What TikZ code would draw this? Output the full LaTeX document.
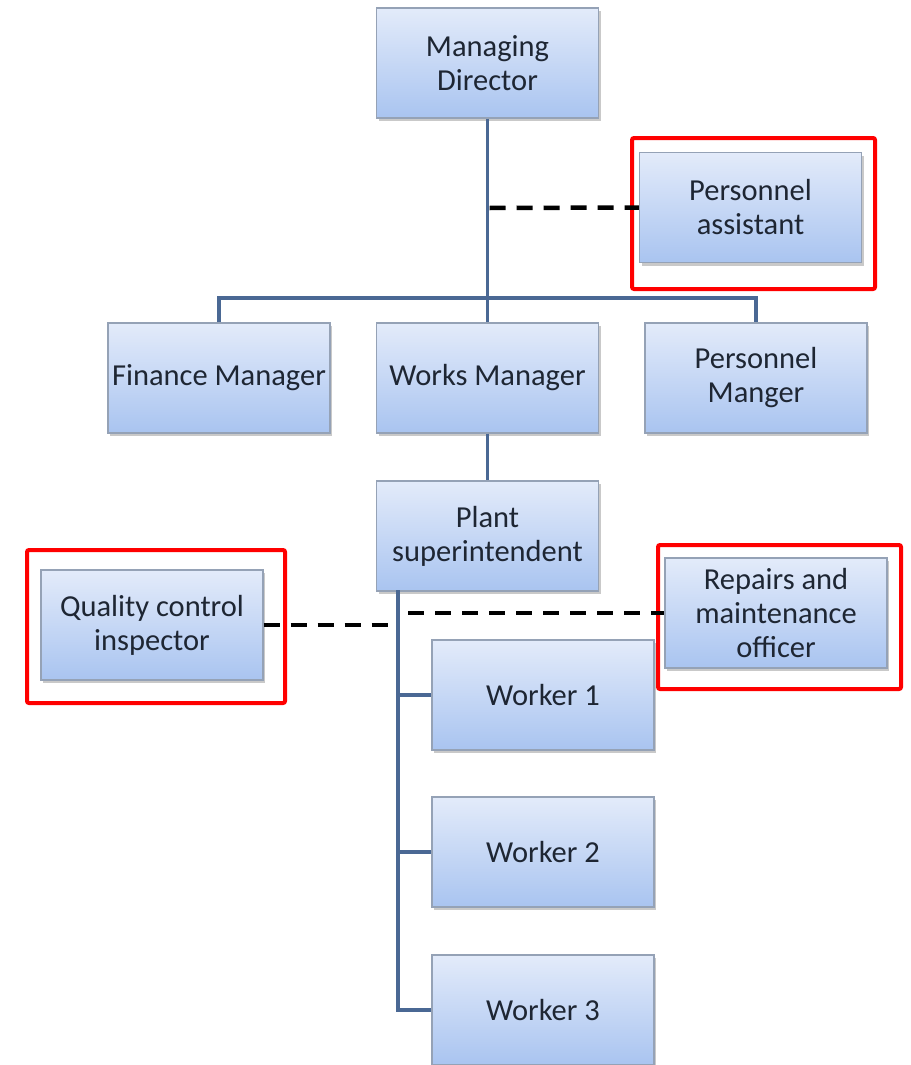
\documentclass[tikz,border=0pt]{standalone}
\usepackage{fontspec}
\setmainfont{Carlito}
\usetikzlibrary{shadows}
\definecolor{conn}{HTML}{4A6894}
\definecolor{boxtop}{HTML}{E3EBFA}
\definecolor{boxbot}{HTML}{A9C4F0}
\definecolor{boxedge}{HTML}{95A2B6}
\definecolor{txt}{HTML}{1E2633}
\tikzset{
  orgbox/.style={draw=boxedge, line width=1.2pt, top color=boxtop, bottom color=boxbot,
    minimum width=222pt, minimum height=110pt, align=center, text=txt,
    font=\fontsize{30.5}{34}\selectfont, inner sep=2pt,
    drop shadow={shadow xshift=2pt, shadow yshift=-3pt, opacity=0.35, fill=black!60}},
  link/.style={draw=conn, line width=3.6pt},
  dashlink/.style={draw=black, line width=4.5pt, dash pattern=on 16pt off 11pt},
  highlight/.style={draw=red, line width=4pt, rounded corners=2pt}
}
\begin{document}
\begin{tikzpicture}[x=1pt,y=-1pt]
\useasboundingbox (0,0) rectangle (910,1065);
\fill[white] (0,0) rectangle (910,1065);
% red highlights
\draw[highlight] (632,138) rectangle (875,289);
\draw[highlight] (27,550) rectangle (285,703);
\draw[highlight] (658,545) rectangle (901,689);

% connector coordinates
\coordinate (j1) at (487.5,298);
\coordinate (d1) at (489.5,208);
\coordinate (v0) at (398,590);
\coordinate (vq) at (398,625);
\coordinate (vr) at (408,613);

% nodes
\node[orgbox] (md) at (487.5,63) {Managing\\Director};
\node[orgbox] (pa) at (750.5,207.5) {Personnel\\assistant};
\node[orgbox] (fm) at (219,378) {Finance Manager};
\node[orgbox] (wm) at (487.5,378) {Works Manager};
\node[orgbox] (pm) at (756,378) {Personnel\\Manger};
\node[orgbox] (ps) at (487.5,536) {Plant\\superintendent};
\node[orgbox] (qc) at (152,625) {Quality control\\inspector};
\node[orgbox] (rm) at (776,613) {Repairs and\\maintenance\\officer};
\node[orgbox] (w1) at (543,695) {Worker 1};
\node[orgbox] (w2) at (543,852) {Worker 2};
\node[orgbox] (w3) at (543,1010) {Worker 3};

% solid connectors
\draw[link] (md.south) -- (wm.north);
\draw[link] (fm.north) |- (j1) -| (pm.north);
\draw[link] (wm.south) -- (ps.north);
\draw[link] (v0) |- (w3.west);
\draw[link] (v0 |- w1.west) -- (w1.west);
\draw[link] (v0 |- w2.west) -- (w2.west);

% dashed connectors
\draw[dashlink] (d1) -- (pa.west);
\draw[dashlink] (qc.east) -- (vq);
\draw[dashlink] (vr) -- (vr -| rm.west);
\end{tikzpicture}
\end{document}
